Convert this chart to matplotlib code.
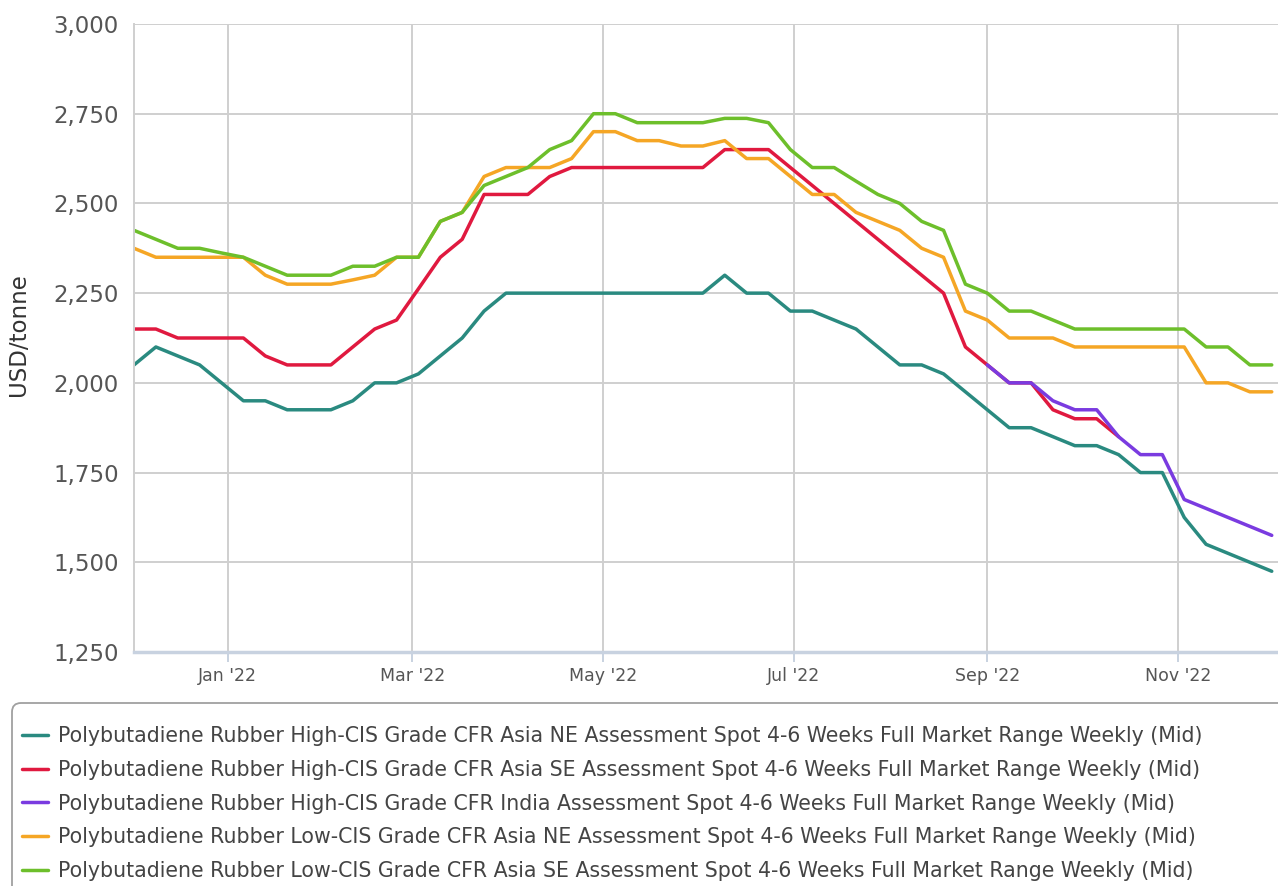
import matplotlib
matplotlib.use("Agg")
import matplotlib.pyplot as plt
import matplotlib.dates as mdates
from matplotlib.patches import FancyBboxPatch
from matplotlib.ticker import FuncFormatter
import pandas as pd

# weekly assessment dates (Thursdays), Dec 2021 - Dec 2022
dates = pd.date_range("2021-12-02", periods=53, freq="7D")

high_ne = [2050, 2100, 2075, 2050, 2000, 1950, 1950, 1925, 1925, 1925,
           1950, 2000, 2000, 2025, 2075, 2125, 2200, 2250, 2250, 2250,
           2250, 2250, 2250, 2250, 2250, 2250, 2250, 2300, 2250, 2250,
           2200, 2200, 2175, 2150, 2100, 2050, 2050, 2025, 1975, 1925,
           1875, 1875, 1850, 1825, 1825, 1800, 1750, 1750, 1625, 1550,
           1525, 1500, 1475]
high_se = [2150, 2150, 2125, 2125, 2125, 2125, 2075, 2050, 2050, 2050,
           2100, 2150, 2175, 2262, 2350, 2400, 2525, 2525, 2525, 2575,
           2600, 2600, 2600, 2600, 2600, 2600, 2600, 2650, 2650, 2650,
           2600, 2550, 2500, 2450, 2400, 2350, 2300, 2250, 2100, 2050,
           2000, 2000, 1925, 1900, 1900, 1850]
# India series starts in September
india_start = 39
high_india = [2050, 2000, 2000, 1950, 1925, 1925, 1850, 1800, 1800, 1675,
              1650, 1625, 1600, 1575]
low_ne = [2375, 2350, 2350, 2350, 2350, 2350, 2300, 2275, 2275, 2275,
          2287, 2300, 2350, 2350, 2450, 2475, 2575, 2600, 2600, 2600,
          2625, 2700, 2700, 2675, 2675, 2660, 2660, 2675, 2625, 2625,
          2575, 2525, 2525, 2475, 2450, 2425, 2375, 2350, 2200, 2175,
          2125, 2125, 2125, 2100, 2100, 2100, 2100, 2100, 2100, 2000,
          2000, 1975, 1975]
low_se = [2425, 2400, 2375, 2375, 2362, 2350, 2325, 2300, 2300, 2300,
          2325, 2325, 2350, 2350, 2450, 2475, 2550, 2575, 2600, 2650,
          2675, 2750, 2750, 2725, 2725, 2725, 2725, 2737, 2737, 2725,
          2650, 2600, 2600, 2562, 2525, 2500, 2450, 2425, 2275, 2250,
          2200, 2200, 2175, 2150, 2150, 2150, 2150, 2150, 2150, 2100,
          2100, 2050, 2050]

labels = [
    "Polybutadiene Rubber High-CIS Grade CFR Asia NE Assessment Spot 4-6 Weeks Full Market Range Weekly (Mid)",
    "Polybutadiene Rubber High-CIS Grade CFR Asia SE Assessment Spot 4-6 Weeks Full Market Range Weekly (Mid)",
    "Polybutadiene Rubber High-CIS Grade CFR India Assessment Spot 4-6 Weeks Full Market Range Weekly (Mid)",
    "Polybutadiene Rubber Low-CIS Grade CFR Asia NE Assessment Spot 4-6 Weeks Full Market Range Weekly (Mid)",
    "Polybutadiene Rubber Low-CIS Grade CFR Asia SE Assessment Spot 4-6 Weeks Full Market Range Weekly (Mid)",
]
colors = ["#2a8a80", "#e0193f", "#7a3be0", "#f5a625", "#6dbf2b"]

plt.rcParams["font.family"] = ["DejaVu Sans"]

W, H = 1278, 886
fig = plt.figure(figsize=(W / 100, H / 100), dpi=100)

# background layer in pixel coordinates for the legend frame
bg = fig.add_axes([0, 0, 1, 1], zorder=-1)
bg.set_xlim(0, W)
bg.set_ylim(H, 0)
bg.axis("off")
bg.add_patch(FancyBboxPatch((12, 703), 1300, 220,
                            boxstyle="round,pad=0,rounding_size=9",
                            fc="white", ec="#a0a0a0", lw=1.3))

ax = fig.add_axes([134 / W, 1 - 652 / H, (W - 134) / W, (652 - 24) / H])
ax.patch.set_alpha(0)

series = [
    (dates, high_ne),
    (dates[:len(high_se)], high_se),
    (dates[india_start:india_start + len(high_india)], high_india),
    (dates, low_ne),
    (dates, low_se),
]
lines = []
for (x, y), c, lab in zip(series, colors, labels):
    ln, = ax.plot(x, y, color=c, lw=2.5, label=lab,
                  solid_joinstyle="round", solid_capstyle="round")
    lines.append(ln)

ax.set_ylim(1250, 3000)
ax.set_yticks(range(1250, 3001, 250))
ax.yaxis.set_major_formatter(FuncFormatter(lambda v, p: f"{int(v):,}"))
ax.set_xlim(dates[0], dates[0] + pd.Timedelta(days=366))
ax.xaxis.set_major_locator(mdates.MonthLocator(bymonth=[1, 3, 5, 7, 9, 11]))
ax.xaxis.set_major_formatter(mdates.DateFormatter("%b '%y"))

ax.grid(True, color="#cfcfcf", lw=1.4)
ax.set_axisbelow(True)
for s in ["top", "right"]:
    ax.spines[s].set_visible(False)
ax.spines["left"].set_color("#cfcfcf")
ax.spines["left"].set_linewidth(1.4)
ax.spines["bottom"].set_color("#c8d2e0")
ax.spines["bottom"].set_linewidth(2.5)

ax.tick_params(axis="y", length=0, pad=11, labelsize=16.5, labelcolor="#555555")
ax.tick_params(axis="x", length=7, width=1.4, color="#c8d2e0", pad=4,
               labelsize=12.5, labelcolor="#555555")

ax.set_ylabel("USD/tonne", fontsize=16.5, color="#333333")
ax.yaxis.set_label_coords(-0.091, 0.505)

fig.legend(handles=lines, loc="upper left",
           bbox_to_anchor=(22 / W, 1 - 726 / H), frameon=False,
           borderaxespad=0, borderpad=0, fontsize=14.8,
           handlelength=1.26, handletextpad=0.49, labelspacing=0.67,
           labelcolor="#444444")

fig.savefig("out.png", dpi=100)
